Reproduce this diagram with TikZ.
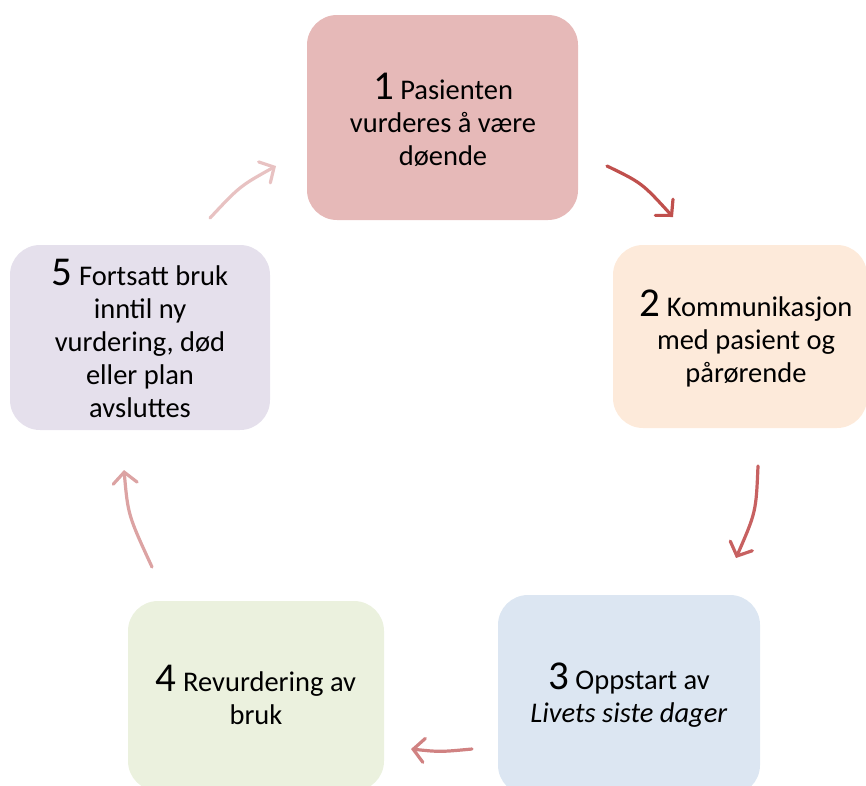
\documentclass[tikz,border=0pt]{standalone}
\usepackage{fontspec}
\setmainfont{Carlito}
\usetikzlibrary{arrows.meta}
\definecolor{cA}{HTML}{E6B9B8}
\definecolor{cB}{HTML}{FDEADA}
\definecolor{cC}{HTML}{DCE6F2}
\definecolor{cD}{HTML}{EBF1DE}
\definecolor{cE}{HTML}{E5E0EC}
\definecolor{aA}{HTML}{C0504D}
\definecolor{aB}{HTML}{C76161}
\definecolor{aC}{HTML}{D08282}
\definecolor{aD}{HTML}{DCA3A3}
\definecolor{aE}{HTML}{E8C2C2}
\newcommand{\bignum}[1]{{\fontsize{41}{41}\selectfont #1}}
\begin{document}
\begin{tikzpicture}[x=1pt,y=-1pt,
  stagebox/.style={rectangle, rounded corners=30pt, draw=none, inner sep=0pt},
  stagetext/.style={align=center, inner sep=0pt, font=\fontsize{28.5}{33}\selectfont},
  cyc/.style={line width=3.2pt, line cap=round, -{Straight Barb[length=11pt,width=24pt,line cap=round]}}]
\useasboundingbox (0,0) rectangle (866,785);
% boxes
\node[stagebox, fill=cA, minimum width=271pt, minimum height=205pt] (b1) at (442.5,117.5) {};
\node[stagebox, fill=cB, minimum width=254pt, minimum height=183pt] (b2) at (740,336.5) {};
\node[stagebox, fill=cC, minimum width=262pt, minimum height=200pt] (b3) at (629,695) {};
\node[stagebox, fill=cD, minimum width=256pt, minimum height=190pt] (b4) at (256,696) {};
\node[stagebox, fill=cE, minimum width=260pt, minimum height=185pt] (b5) at (140,337.5) {};
% texts
\node[stagetext] (t1) at (443,120) {\bignum{1} Pasienten\\vurderes å være\\døende};
\node[stagetext] (t2) at (746,338) {\bignum{2} Kommunikasjon\\med pasient og\\pårørende};
\node[stagetext] (t3) at (629,695) {\bignum{3} Oppstart av\\\textit{Livets siste dager}};
\node[stagetext] (t4) at (256,695) {\bignum{4} Revurdering av\\bruk};
\node[stagetext] (t5) at (140,338) {\bignum{5} Fortsatt bruk\\inntil ny\\vurdering, død\\eller plan\\avsluttes};
% arrow end points
\coordinate (s12) at (607,166); \coordinate (e12) at (673,217);
\coordinate (s23) at (758,466); \coordinate (e23) at (736,558);
\coordinate (s34) at (472,749); \coordinate (e34) at (411,749);
\coordinate (s45) at (152,567); \coordinate (e45) at (124,470);
\coordinate (s51) at (210,218); \coordinate (e51) at (276,166);
\draw[cyc, draw=aA] (s12) .. controls (642,183) .. (e12);
\draw[cyc, draw=aB] (s23) .. controls (756,512) .. (e23);
\draw[cyc, draw=aC] (s34) .. controls (440,752) .. (e34);
\draw[cyc, draw=aD] (s45) .. controls (128,515) .. (e45);
\draw[cyc, draw=aE] (s51) .. controls (240,186) .. (e51);
\end{tikzpicture}
\end{document}
